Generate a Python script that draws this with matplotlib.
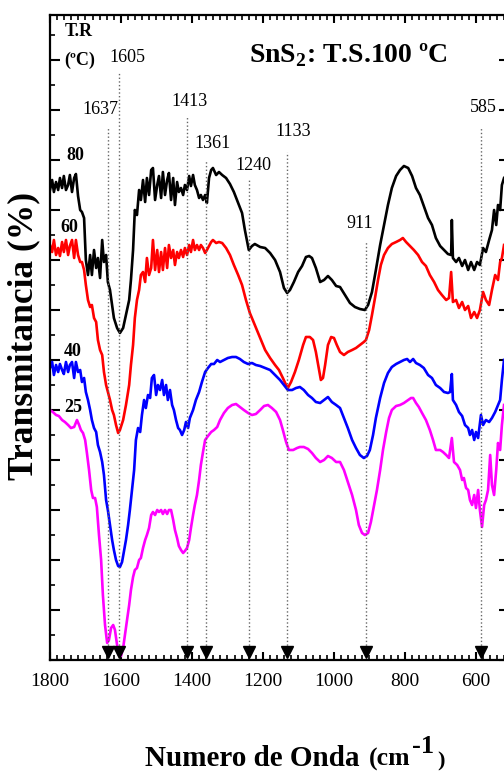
import numpy as np
import matplotlib.pyplot as plt
from matplotlib.ticker import MultipleLocator

plt.rcParams['font.family'] = ['Liberation Serif', 'DejaVu Serif']
plt.rcParams['mathtext.fontset'] = 'custom'
plt.rcParams['mathtext.rm'] = 'Liberation Serif'
plt.rcParams['mathtext.bf'] = 'Liberation Serif:bold'

# FTIR spectra, reaction temperature 80 / 60 / 40 / 25 ºC (offset traces)
wn_80 = [1800, 1794, 1789, 1783, 1777, 1772, 1766, 1761, 1755, 1749, 1744, 1738, 1732, 1727, 1721,
         1715, 1710, 1704, 1699, 1693, 1687, 1682, 1676, 1670, 1665, 1659, 1653, 1648, 1642, 1637,
         1631, 1625, 1620, 1611, 1603, 1594, 1586, 1577, 1572, 1566, 1561, 1555, 1549, 1544, 1538,
         1532, 1527, 1521, 1515, 1510, 1504, 1498, 1493, 1487, 1482, 1476, 1470, 1465, 1459, 1453,
         1448, 1442, 1437, 1431, 1425, 1420, 1414, 1408, 1403, 1397, 1392, 1386, 1380, 1375, 1369,
         1363, 1358, 1352, 1346, 1341, 1332, 1324, 1315, 1304, 1293, 1282, 1270, 1259, 1251, 1240,
         1231, 1223, 1208, 1194, 1180, 1166, 1152, 1141, 1132, 1124, 1113, 1101, 1090, 1079, 1070,
         1062, 1051, 1039, 1028, 1017, 1006, 994, 983, 969, 955, 941, 927, 913, 904, 893,
         882, 870, 859, 848, 837, 825, 814, 803, 791, 780, 769, 758, 747, 735, 724,
         713, 701, 690, 679, 670, 668, 665, 656, 648, 639, 631, 622, 614, 605, 597,
         589, 580, 572, 563, 555, 549, 543, 538, 532, 527, 521]
t_80 = [94.0, 96.0, 93.6, 95.6, 94.0, 96.4, 94.4, 96.8, 94.0, 95.0, 97.0, 93.6, 96.4, 97.2, 92.8,
        90.0, 89.6, 88.4, 80.0, 77.0, 81.0, 77.0, 82.0, 78.4, 80.4, 76.4, 84.0, 79.6, 81.0, 75.6,
        74.0, 71.0, 68.4, 66.4, 65.4, 66.4, 69.0, 72.0, 76.0, 82.0, 90.0, 89.0, 94.0, 92.0, 96.0,
        91.6, 96.4, 93.0, 98.0, 98.4, 92.0, 95.0, 96.8, 92.4, 97.6, 93.0, 96.0, 97.4, 92.0, 96.4,
        91.0, 95.6, 93.6, 94.4, 93.0, 95.0, 94.0, 96.8, 94.8, 97.0, 95.0, 94.0, 92.4, 93.0, 92.0,
        93.0, 91.4, 96.4, 98.0, 98.4, 97.0, 97.6, 97.0, 96.4, 95.2, 93.6, 91.4, 89.4, 86.0, 82.0,
        82.8, 83.2, 82.6, 82.4, 81.4, 80.0, 77.6, 74.4, 73.4, 74.0, 75.6, 77.6, 78.8, 80.6, 80.8,
        80.4, 78.4, 75.6, 76.0, 76.8, 76.0, 74.8, 74.6, 73.0, 71.4, 70.6, 70.2, 70.0, 71.0, 73.6,
        78.0, 83.0, 87.0, 91.0, 94.4, 96.8, 98.0, 98.8, 98.4, 96.8, 94.4, 93.0, 90.8, 88.4, 87.0,
        84.4, 82.8, 82.0, 81.2, 81.0, 88.0, 80.4, 79.6, 80.4, 78.8, 80.0, 78.0, 79.6, 78.0, 79.6,
        79.0, 82.4, 81.6, 84.0, 86.0, 90.0, 87.0, 91.0, 90.0, 95.0, 96.4]

wn_60 = [1800, 1794, 1789, 1783, 1777, 1772, 1766, 1761, 1755, 1749, 1744, 1738, 1732, 1727, 1721,
         1715, 1710, 1704, 1699, 1693, 1687, 1682, 1676, 1670, 1665, 1659, 1653, 1648, 1642, 1637,
         1631, 1625, 1620, 1614, 1608, 1603, 1594, 1586, 1577, 1572, 1566, 1561, 1555, 1549, 1544,
         1538, 1532, 1527, 1521, 1515, 1510, 1504, 1498, 1493, 1487, 1482, 1476, 1470, 1465, 1459,
         1453, 1448, 1442, 1437, 1431, 1425, 1420, 1414, 1408, 1403, 1397, 1392, 1386, 1380, 1375,
         1369, 1363, 1358, 1352, 1346, 1341, 1332, 1324, 1315, 1304, 1293, 1282, 1270, 1259, 1248,
         1237, 1223, 1208, 1194, 1180, 1166, 1155, 1144, 1135, 1130, 1121, 1110, 1099, 1087, 1079,
         1068, 1059, 1051, 1042, 1037, 1031, 1025, 1017, 1008, 1000, 992, 983, 972, 961, 949,
         938, 927, 916, 910, 901, 893, 884, 876, 868, 859, 848, 837, 825, 814, 806,
         797, 786, 775, 763, 752, 741, 730, 718, 707, 696, 684, 676, 670, 665, 656,
         648, 639, 631, 622, 614, 605, 597, 589, 580, 572, 563, 555, 546, 538, 532,
         527, 521]
t_60 = [83.0, 81.6, 84.0, 81.0, 82.4, 80.8, 83.6, 81.6, 84.0, 81.0, 82.8, 84.0, 80.4, 84.0, 81.0,
        79.6, 79.6, 78.0, 75.0, 72.0, 70.6, 71.0, 68.4, 67.6, 64.0, 62.0, 61.0, 57.6, 55.0, 53.6,
        52.0, 50.0, 49.0, 47.0, 45.4, 46.0, 48.0, 51.0, 55.0, 59.0, 63.0, 68.4, 72.0, 74.0, 77.0,
        77.6, 75.6, 80.4, 77.0, 78.4, 84.0, 78.0, 82.0, 77.6, 81.6, 78.0, 82.4, 78.4, 83.0, 80.4,
        82.0, 79.0, 81.6, 80.4, 82.0, 80.6, 82.4, 81.0, 83.0, 81.6, 84.0, 82.0, 83.0, 82.0, 83.0,
        82.4, 81.4, 82.0, 82.8, 83.6, 84.0, 83.4, 83.6, 83.4, 82.4, 81.0, 79.0, 77.0, 75.0, 72.0,
        69.4, 67.0, 64.4, 62.0, 60.4, 59.0, 58.0, 56.4, 55.0, 54.4, 55.6, 57.6, 60.0, 63.0, 64.6,
        64.6, 64.0, 61.6, 58.0, 56.0, 56.4, 59.0, 63.0, 64.6, 64.4, 63.0, 61.6, 61.0, 61.6, 62.0,
        62.4, 63.0, 63.6, 64.0, 66.0, 69.0, 72.6, 76.0, 79.0, 81.0, 82.4, 83.2, 83.6, 84.0, 84.4,
        83.6, 82.8, 82.0, 81.0, 79.6, 78.8, 77.0, 75.6, 74.0, 73.0, 72.0, 72.4, 77.6, 71.6, 72.0,
        70.4, 71.6, 70.0, 70.8, 68.4, 69.6, 68.4, 70.0, 73.6, 72.0, 71.0, 74.0, 77.0, 76.0, 79.6,
        80.4, 83.0]

wn_40 = [1800, 1794, 1789, 1783, 1777, 1772, 1766, 1761, 1755, 1749, 1744, 1738, 1732, 1727, 1721,
         1715, 1710, 1704, 1699, 1693, 1687, 1682, 1676, 1670, 1665, 1659, 1653, 1648, 1642, 1637,
         1631, 1625, 1620, 1614, 1608, 1603, 1597, 1592, 1586, 1580, 1575, 1569, 1563, 1558, 1552,
         1546, 1541, 1535, 1530, 1524, 1518, 1513, 1507, 1501, 1496, 1490, 1484, 1479, 1473, 1468,
         1462, 1456, 1451, 1445, 1439, 1434, 1428, 1422, 1417, 1411, 1406, 1397, 1389, 1380, 1372,
         1363, 1355, 1346, 1338, 1329, 1321, 1310, 1299, 1287, 1276, 1265, 1254, 1242, 1231, 1220,
         1208, 1194, 1180, 1166, 1152, 1141, 1130, 1118, 1107, 1096, 1085, 1073, 1062, 1051, 1039,
         1028, 1017, 1006, 994, 983, 972, 961, 949, 938, 927, 916, 907, 899, 890, 882,
         870, 859, 848, 837, 825, 814, 803, 794, 786, 777, 769, 758, 747, 735, 724,
         713, 701, 690, 679, 673, 668, 665, 656, 648, 639, 631, 622, 617, 611, 605,
         600, 594, 586, 580, 572, 563, 555, 546, 538, 532, 527, 521]
t_40 = [58.4, 59.6, 57.0, 59.0, 57.6, 59.2, 58.0, 57.2, 59.6, 57.6, 59.0, 59.6, 56.4, 59.6, 57.6,
        58.0, 55.6, 56.4, 53.6, 52.0, 50.0, 48.0, 46.4, 45.6, 43.0, 41.6, 39.6, 37.0, 32.0, 30.0,
        27.0, 24.0, 22.0, 20.0, 18.8, 18.6, 19.6, 21.6, 24.0, 27.0, 30.0, 34.0, 38.0, 44.0, 46.4,
        45.6, 49.0, 52.0, 50.4, 53.0, 52.4, 56.4, 57.0, 53.0, 55.0, 54.0, 56.0, 53.0, 55.0, 52.0,
        54.0, 51.0, 50.0, 48.0, 46.4, 46.0, 45.0, 46.0, 47.6, 46.4, 48.4, 50.0, 52.0, 53.6, 55.6,
        57.6, 58.4, 59.2, 59.2, 60.0, 59.6, 60.0, 60.4, 60.6, 60.6, 60.2, 59.6, 59.2, 59.4, 59.0,
        58.8, 58.4, 58.0, 57.0, 56.0, 55.0, 54.0, 54.0, 54.4, 54.6, 54.0, 53.0, 52.4, 51.6, 51.4,
        52.0, 52.6, 51.6, 51.0, 50.4, 48.4, 46.4, 44.0, 42.4, 41.0, 40.4, 40.8, 42.0, 45.0, 48.4,
        52.4, 55.4, 57.4, 58.6, 59.2, 59.6, 60.0, 60.2, 59.6, 60.2, 59.4, 59.0, 58.4, 57.0, 56.4,
        55.0, 54.4, 53.6, 53.4, 53.6, 57.2, 52.0, 51.0, 49.6, 48.8, 47.0, 46.4, 45.0, 46.0, 44.0,
        45.6, 44.4, 49.0, 47.0, 48.0, 47.6, 48.4, 49.6, 51.0, 52.0, 56.0, 60.0]

wn_25 = [1800, 1792, 1783, 1775, 1766, 1758, 1749, 1741, 1732, 1724, 1718, 1713, 1707, 1701, 1696,
         1690, 1684, 1679, 1673, 1668, 1662, 1656, 1651, 1645, 1639, 1634, 1628, 1622, 1617, 1611,
         1606, 1600, 1594, 1589, 1583, 1577, 1572, 1566, 1561, 1555, 1549, 1544, 1538, 1532, 1527,
         1521, 1515, 1510, 1504, 1498, 1493, 1487, 1482, 1476, 1470, 1465, 1459, 1453, 1448, 1442,
         1437, 1431, 1425, 1420, 1414, 1408, 1403, 1397, 1392, 1386, 1380, 1375, 1369, 1363, 1355,
         1346, 1338, 1329, 1321, 1310, 1299, 1287, 1276, 1265, 1254, 1242, 1231, 1220, 1208, 1197,
         1186, 1175, 1163, 1152, 1144, 1135, 1127, 1115, 1104, 1096, 1085, 1073, 1062, 1051, 1039,
         1028, 1017, 1006, 994, 983, 972, 961, 949, 938, 930, 921, 913, 904, 896, 887,
         879, 870, 862, 853, 845, 837, 825, 814, 803, 791, 783, 777, 769, 761, 752,
         741, 730, 721, 713, 701, 693, 684, 676, 668, 662, 653, 645, 639, 634, 628,
         622, 617, 611, 605, 600, 594, 589, 583, 577, 572, 566, 560, 555, 549, 543,
         538, 532, 527, 521]
t_25 = [50.0, 49.6, 49.0, 48.8, 48.0, 47.6, 47.0, 46.4, 46.6, 48.0, 47.0, 46.0, 45.4, 44.0, 41.4,
        38.0, 34.0, 32.4, 32.4, 30.6, 25.0, 20.0, 13.0, 7.0, 3.4, 4.0, 6.4, 7.0, 6.0, 3.0,
        1.0, 0.8, 2.4, 5.0, 8.0, 11.0, 14.0, 16.6, 18.0, 18.4, 20.0, 20.4, 22.4, 24.0, 25.0,
        26.4, 29.0, 29.6, 29.0, 30.0, 29.6, 30.0, 29.2, 30.0, 29.2, 30.0, 30.0, 28.0, 26.0, 24.4,
        22.8, 22.0, 21.4, 21.8, 22.4, 24.0, 26.4, 29.0, 31.0, 33.0, 36.0, 39.0, 41.6, 44.0, 44.8,
        45.6, 46.0, 46.6, 48.0, 49.4, 50.4, 51.0, 51.2, 50.6, 50.0, 49.4, 49.0, 49.2, 50.0, 50.8,
        51.0, 50.4, 49.6, 48.0, 46.0, 43.6, 42.0, 42.0, 42.4, 42.6, 42.6, 42.2, 41.4, 40.4, 39.6,
        40.0, 40.8, 40.4, 39.6, 39.6, 38.0, 35.6, 33.0, 30.0, 27.0, 25.4, 25.0, 25.4, 27.6, 31.0,
        34.0, 38.0, 42.0, 45.6, 48.4, 50.0, 50.8, 51.0, 51.4, 52.0, 52.4, 52.4, 51.4, 50.6, 49.4,
        48.0, 46.0, 44.0, 42.0, 42.0, 41.6, 41.0, 40.4, 44.4, 39.6, 39.0, 38.0, 36.0, 36.4, 34.4,
        34.0, 32.0, 31.0, 33.0, 30.4, 34.0, 30.0, 26.6, 31.0, 32.0, 34.0, 41.0, 35.0, 33.0, 38.0,
        43.4, 42.0, 47.0, 51.0]

# marked bands
peaks = [1637, 1605, 1413, 1361, 1240, 1133, 911, 585]
peak_tops = [106.6, 117.4, 108.8, 100.0, 96.0, 101.6, 83.6, 106.6]
peak_text_x = [1659, 1583, 1408, 1341, 1226, 1115, 927, 580]
peak_text_y = [110.2, 120.4, 111.8, 103.4, 99.0, 105.8, 87.4, 110.6]

temps = ['80', '60', '40', '25']
temp_x = [1730, 1746, 1735, 1735]
temp_y = [101.0, 86.4, 61.8, 50.6]
colors = ['#000000', '#ff0000', '#0000ff', '#ff00ff']

fig = plt.figure(figsize=(5.04, 7.71), dpi=100)
ax = fig.add_axes([50 / 504, 111 / 771, 459 / 504, 645 / 771])

for wn, t, c in zip([wn_80, wn_60, wn_40, wn_25], [t_80, t_60, t_40, t_25], colors):
    ax.plot(wn, t, color=c, lw=1.9, solid_joinstyle='round')

for p, top, tx, ty in zip(peaks, peak_tops, peak_text_x, peak_text_y):
    ax.plot([p, p], [0, top], ls=':', color='#666666', lw=1.0)
    ax.plot(p, 1.6, marker='v', color='black', ms=8, mec='black')
    ax.text(tx, ty, str(p), fontsize=13, ha='center', va='center')

for lab, x, y in zip(temps, temp_x, temp_y):
    ax.text(x, y, lab, fontsize=13, fontweight='bold', ha='center', va='center')

ax.text(1719, 125.6, 'T.R', fontsize=13, fontweight='bold', ha='center', va='center')
ax.text(1716, 120.0, '(ºC)', fontsize=13, fontweight='bold', ha='center', va='center')
ax.text(960, 121.0, r'SnS$_\mathbf{2}$: T.S.100 ºC', fontsize=20, fontweight='bold',
        ha='center', va='center')

ax.set_xlim(1800, 507)
ax.set_ylim(0, 129)
ax.xaxis.set_major_locator(MultipleLocator(200))
ax.xaxis.set_minor_locator(MultipleLocator(20))
ax.yaxis.set_major_locator(MultipleLocator(10))
ax.yaxis.set_minor_locator(MultipleLocator(5))
ax.tick_params(axis='x', which='major', direction='in', top=True, length=6, width=1.5,
               labelsize=14, pad=9)
ax.tick_params(axis='x', which='minor', direction='in', top=True, length=3.5, width=1.2)
ax.tick_params(axis='y', which='major', direction='in', right=True, length=7, width=1.5,
               labelleft=False)
ax.tick_params(axis='y', which='minor', direction='in', right=True, length=3.5, width=1.2)
for s in ax.spines.values():
    s.set_linewidth(1.6)

fig.text(24 / 504, 1 - 336 / 771, 'Transmitancia (%)', rotation=90, fontsize=25.5,
         fontweight='bold', ha='center', va='center')
fig.text(145 / 504, 1 - 766 / 771, 'Numero de Onda', fontsize=21, fontweight='bold',
         ha='left', va='baseline')
fig.text(369 / 504, 1 - 766 / 771, '(cm', fontsize=18.5, fontweight='bold', ha='left', va='baseline')
fig.text(412 / 504, 1 - 753 / 771, '-1', fontsize=19, fontweight='bold', ha='left', va='baseline')
fig.text(437 / 504, 1 - 766 / 771, ')', fontsize=16, fontweight='bold', ha='left', va='baseline')

fig.savefig('out.png', dpi=100)
